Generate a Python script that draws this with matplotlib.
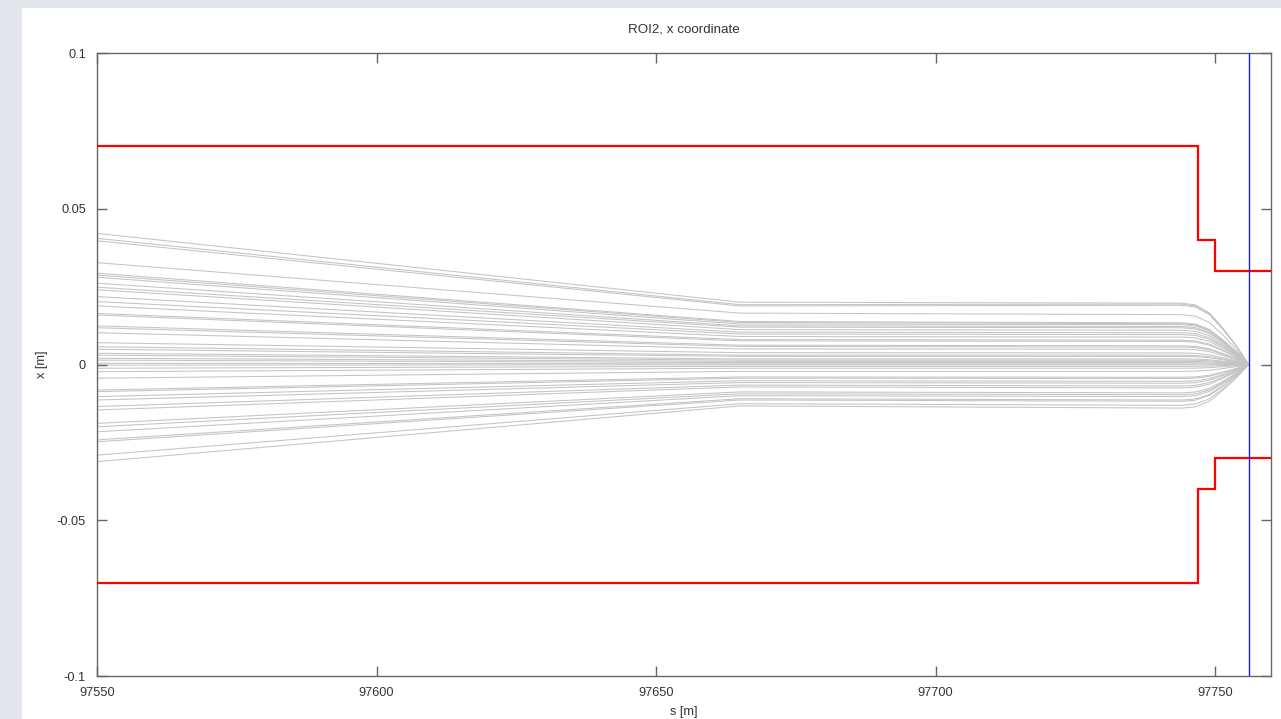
import matplotlib
matplotlib.use("Agg")
import matplotlib.pyplot as plt
from matplotlib.patches import Rectangle

plt.rcParams['font.family'] = ['Liberation Sans', 'DejaVu Sans']

# ---- data ----
title = "ROI2, x coordinate"
xlabel = "s [m]"
ylabel = "x [m]"
xticks = [97550, 97600, 97650, 97700, 97750]
yticks = [-0.1, -0.05, 0, 0.05, 0.1]
ytick_labels = ["-0.1", "-0.05", "0", "0.05", "0.1"]

# aperture (upper half; lower half is mirrored)
aperture_s = [97550, 97747, 97747, 97750, 97750, 97760]
aperture_x = [0.07, 0.07, 0.04, 0.04, 0.03, 0.03]

# marker position (blue vertical line)
marker_s = 97756

# trajectories: x at start (s=97550), at end of drift (s=97665), at s=97744
x_start = [0.0421, 0.0405, 0.0397, 0.0327, 0.0293, 0.0287, 0.0280, 0.0261, 0.0248,
           0.0240, 0.0218, 0.0202, 0.0188, 0.0164, 0.0159, 0.0124, 0.0118, 0.0102,
           0.0070, 0.0057, 0.0049, 0.0036, 0.0030, 0.0020, 0.0014, 0.0004, -0.0002,
           -0.0012, -0.0023, -0.0044, -0.0082, -0.0087, -0.0103, -0.0114, -0.0135,
           -0.0146, -0.0189, -0.0200, -0.0216, -0.0242, -0.0248, -0.0291, -0.0312]
x_kink = [0.0200, 0.0192, 0.0188, 0.0165, 0.0138, 0.0135, 0.0130, 0.0124, 0.0120,
          0.0112, 0.0104, 0.0098, 0.0090, 0.0080, 0.0076, 0.0062, 0.0058, 0.0050,
          0.0038, 0.0030, 0.0026, 0.0018, 0.0014, 0.0010, 0.0006, 0.0002, -0.0001,
          -0.0006, -0.0012, -0.0022, -0.0040, -0.0044, -0.0052, -0.0058, -0.0066,
          -0.0072, -0.0088, -0.0094, -0.0100, -0.0110, -0.0114, -0.0126, -0.0133]
x_flat_end = [0.0197, 0.0194, 0.0190, 0.0160, 0.0134, 0.0131, 0.0128, 0.0122, 0.0118,
              0.0110, 0.0102, 0.0096, 0.0088, 0.0078, 0.0074, 0.0060, 0.0056, 0.0049,
              0.0037, 0.0030, 0.0026, 0.0018, 0.0014, 0.0010, 0.0006, 0.0002, -0.0001,
              -0.0006, -0.0012, -0.0022, -0.0041, -0.0045, -0.0054, -0.0060, -0.0069,
              -0.0075, -0.0091, -0.0097, -0.0103, -0.0114, -0.0118, -0.0131, -0.0140]
s_knots = [97550, 97665, 97744, 97746.5, 97749, 97751.5, 97754, 97756]
# fraction of x_flat_end kept at the final-focus knots (s >= 97744)
taper = [1.0, 0.97, 0.84, 0.58, 0.28, 0.0]

# ---- figure ----
W, H = 1281, 719
fig = plt.figure(figsize=(W / 100, H / 100), dpi=100)
fig.patch.set_facecolor('#e3e7eb')
fig.patches.append(Rectangle((22 / W, 0), 1 - 22 / W, 1 - 8 / H,
                             transform=fig.transFigure, facecolor='white',
                             edgecolor='none', zorder=-10))

ax = fig.add_axes([97 / W, 1 - 676 / H, (1271 - 97) / W, (676 - 53) / H])
ax.set_facecolor('white')

for x0, x1, x2 in zip(x_start, x_kink, x_flat_end):
    xs = [x0, x1] + [x2 * t for t in taper]
    ax.plot(s_knots, xs, color='#c4c4c4', lw=0.75, zorder=1)

ax.plot(aperture_s, aperture_x, color='#ff0000', lw=1.6, zorder=3,
        solid_joinstyle='miter')
ax.plot(aperture_s, [-v for v in aperture_x], color='#ff0000', lw=1.6, zorder=3,
        solid_joinstyle='miter')
ax.axvline(marker_s, color='#1a1aff', lw=1.0, zorder=4)

ax.set_xlim(97550, 97760)
ax.set_ylim(-0.1, 0.1)
ax.set_xticks(xticks)
ax.set_xticklabels([str(v) for v in xticks])
ax.set_yticks(yticks)
ax.set_yticklabels(ytick_labels)
ax.tick_params(direction='in', length=7, width=1, color='#666666',
               top=True, right=True, labelsize=9.2, labelcolor='#333333', pad=8)
ax.tick_params(axis='x', pad=8)
for sp in ax.spines.values():
    sp.set_color('#666666')
    sp.set_linewidth(1)

fig.text(684 / W, 1 - 30 / H, title, ha='center', va='center',
         fontsize=9.6, color='#333333')
fig.text(684 / W, 1 - 712 / H, xlabel, ha='center', va='center',
         fontsize=9.2, color='#333333')
fig.text(42 / W, 1 - 364 / H, ylabel, ha='center', va='center', rotation=90,
         fontsize=9.2, color='#333333')

fig.savefig('out.png', dpi=100)
